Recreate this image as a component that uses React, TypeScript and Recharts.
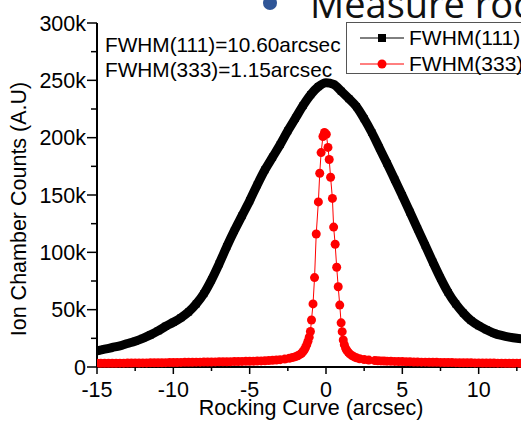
import React from 'react';
import { LineChart, Line, XAxis, YAxis } from 'recharts';

// FWHM(111) scan, counts in thousands
const arc111X = [
  -15, -14.5, -14, -13.5, -13, -12.5, -12, -11.5, -11, -10.5, -10, -9.5, -9, -8.5, -8, -7.5, -7, -6.5, -6, -5.5,
  -5, -4.5, -4, -3.5, -3, -2.5, -2, -1.5, -1, -0.5, 0, 0.5, 1, 1.5, 2, 2.5, 3, 3.5, 4, 4.5,
  5, 5.5, 6, 6.5, 7, 7.5, 8, 8.5, 9, 9.5, 10, 10.5, 11, 11.5, 12, 12.5, 13, 13.5,
];
const arc111Counts = [
  14, 15.5, 17, 18.5, 20.5, 22.5, 25, 28, 31.5, 35.5, 39, 43, 48, 55, 64, 76, 90, 105, 119, 132,
  145, 159, 172, 183, 194, 206, 217, 228, 237.5, 244.5, 248, 246.5, 240.5, 234, 227, 216.5, 204.5, 191, 177.5, 163.5,
  149.5, 135, 120.5, 106, 91.5, 77.5, 65, 55, 47, 40.5, 36, 32.5, 29.5, 27.5, 26, 25, 24.5, 24,
];

// FWHM(333) scan, counts in thousands
const arc333X = [
  -15, -14.75, -14.5, -14.25, -14, -13.75, -13.5, -13.25, -13, -12.75, -12.5, -12.25, -12, -11.75, -11.5, -11.25,
  -11, -10.75, -10.5, -10.25, -10, -9.75, -9.5, -9.25, -9, -8.75, -8.5, -8.25, -8, -7.75, -7.5, -7.25,
  -7, -6.75, -6.5, -6.25, -6, -5.75, -5.5, -5.25, -5, -4.75, -4.5, -4.25, -4, -3.75, -3.5, -3.25,
  -3, -2.7, -2.4, -2.2, -2, -1.85, -1.7, -1.6, -1.5, -1.42, -1.34, -1.26, -1.18, -1.1, -1.02, -0.95,
  -0.85, -0.75, -0.64, -0.5, -0.41, -0.32, -0.2, -0.1, 0.02, 0.13, 0.21, 0.3, 0.42, 0.5, 0.6, 0.7,
  0.8, 0.9, 0.99, 1.06, 1.13, 1.2, 1.28, 1.36, 1.45, 1.55, 1.7, 1.85, 2, 2.2, 2.5, 2.8,
  3.2, 3.4, 3.6, 3.8, 4, 4.25, 4.5, 4.75, 5, 5.25, 5.5, 5.75, 6, 6.25, 6.5, 6.75,
  7, 7.25, 7.5, 7.75, 8, 8.25, 8.5, 8.75, 9, 9.25, 9.5, 9.75, 10, 10.25, 10.5, 10.75,
  11, 11.25, 11.5, 11.75, 12, 12.25, 12.5, 12.75, 13, 13.25, 13.5,
];
const arc333Counts = [
  3.2, 3.22, 3.25, 3.27, 3.3, 3.32, 3.35, 3.37, 3.4, 3.45, 3.5, 3.52, 3.55, 3.57, 3.6, 3.65,
  3.7, 3.75, 3.8, 3.85, 3.9, 3.95, 4.0, 4.05, 4.1, 4.15, 4.2, 4.25, 4.3, 4.35, 4.4, 4.45,
  4.5, 4.55, 4.6, 4.65, 4.7, 4.78, 4.85, 4.92, 5.0, 5.1, 5.2, 5.3, 5.4, 5.6, 5.8, 6.1,
  6.4, 6.9, 7.6, 8.2, 9, 9.8, 11, 12, 13.5, 15, 17, 19.5, 22.5, 26, 31, 41,
  55, 78, 116, 144, 169, 187, 201, 204.5, 203, 191.5, 181, 165.5, 147, 122, 107, 87,
  70, 54, 38.5, 30.8, 23.5, 19.5, 16.5, 14.5, 13, 11.5, 10, 8.8, 8, 7.2, 6.5, 6,
  5.6, 5.45, 5.3, 5.2, 5.1, 5.0, 4.9, 4.8, 4.7, 4.6, 4.5, 4.4, 4.3, 4.25, 4.2, 4.15,
  4.1, 4.05, 4.0, 3.95, 3.9, 3.85, 3.8, 3.75, 3.7, 3.65, 3.6, 3.55, 3.5, 3.47, 3.45, 3.42,
  3.4, 3.37, 3.35, 3.32, 3.3, 3.27, 3.25, 3.22, 3.2, 3.2, 3.2,
];

const xTicks = [-15, -12.5, -10, -7.5, -5, -2.5, 0, 2.5, 5, 7.5, 10, 12.5, 15];
const yTicks = [0, 25, 50, 75, 100, 125, 150, 175, 200, 225, 250, 275, 300];

const series111 = arc111X.map((x, i) => ({ x, y: arc111Counts[i] }));
const series333 = arc333X.map((x, i) => ({ x, y: arc333Counts[i] }));

const font = '"Liberation Sans", Arial, sans-serif';

const SquareDot = (props: any) => (
  <rect key={`sq-${props.index}`} x={props.cx - 3.5} y={props.cy - 3.5} width={7} height={7} fill="#000" />
);

const YTick = (props: any) => {
  const { x, y, payload } = props;
  const v = payload.value;
  const major = v % 50 === 0;
  return (
    <g>
      <line x1={x - (major ? 10 : 6)} x2={x} y1={y} y2={y} stroke="#000" strokeWidth={1.5} />
      {major && (
        <text x={x - 11} y={y} dy="0.36em" textAnchor="end" fill="#000" fontSize={21.5} fontFamily={font}>
          {v === 0 ? '0' : `${v}k`}
        </text>
      )}
    </g>
  );
};

const XTick = (props: any) => {
  const { x, y, payload } = props;
  const v = payload.value;
  const major = v % 5 === 0;
  return (
    <g>
      <line x1={x} x2={x} y1={y} y2={y + (major ? 7 : 4)} stroke="#000" strokeWidth={1.5} />
      {major && (
        <text x={x} y={y + 15} dy="0.71em" textAnchor="middle" fill="#000" fontSize={21.5} fontFamily={font}>
          {v}
        </text>
      )}
    </g>
  );
};

const legendItems = [
  { name: 'FWHM(111)', color: '#000', square: true },
  { name: 'FWHM(333)', color: '#ff0000', square: false },
];

export default function App() {
  return (
    <div style={{ position: 'absolute', left: 0, top: 0, width: 521, height: 421, overflow: 'hidden', background: '#fff' }}>
      <LineChart width={600} height={421} margin={{ top: 23, right: 45, bottom: 0, left: 0 }}>
        <XAxis
          dataKey="x"
          type="number"
          domain={[-15, 15]}
          ticks={xTicks}
          allowDataOverflow
          stroke="#000"
          strokeWidth={2}
          tickLine={false}
          tickSize={0}
          tickMargin={0}
          height={54}
          tick={XTick}
        />
        <XAxis
          xAxisId="top"
          dataKey="x"
          type="number"
          orientation="top"
          domain={[-15, 15]}
          ticks={xTicks}
          allowDataOverflow
          mirror
          height={0}
          stroke="#000"
          strokeWidth={1.5}
          tickSize={4}
          tick={false}
        />
        <YAxis
          type="number"
          domain={[0, 300]}
          ticks={yTicks}
          width={97}
          stroke="#000"
          strokeWidth={2}
          tickLine={false}
          tickSize={0}
          tickMargin={0}
          tick={YTick}
        />
        <Line
          data={series111}
          dataKey="y"
          name="FWHM(111)"
          type="monotone"
          stroke="#000"
          strokeWidth={9}
          strokeLinecap="round"
          strokeLinejoin="round"
          dot={SquareDot}
          activeDot={false}
          isAnimationActive={false}
        />
        <Line
          data={series333}
          dataKey="y"
          name="FWHM(333)"
          type="linear"
          stroke="#ff0000"
          strokeWidth={1}
          dot={{ r: 4.5, fill: '#ff0000', stroke: 'none' }}
          activeDot={false}
          isAnimationActive={false}
        />
      </LineChart>

      {/* legend box */}
      <div
        style={{
          position: 'absolute',
          left: 346,
          top: 22,
          width: 200,
          height: 50,
          border: '1px solid #555',
          background: '#fff',
          fontFamily: font,
          fontSize: 21,
        }}
      >
        {legendItems.map((e, i) => (
          <div key={e.name} style={{ position: 'absolute', left: 13, top: 3 + i * 26, height: 24, display: 'flex', alignItems: 'center' }}>
            <svg width={44} height={12} style={{ marginRight: 5 }}>
              <line x1={0} y1={6} x2={44} y2={6} stroke={e.color} strokeWidth={1} />
              {e.square ? <rect x={18} y={2} width={8} height={8} fill={e.color} /> : <circle cx={22} cy={6} r={4.5} fill={e.color} />}
            </svg>
            <span style={{ lineHeight: '24px', color: '#000' }}>{e.name}</span>
          </div>
        ))}
      </div>

      <div style={{ position: 'absolute', left: 263, top: -4, width: 14, height: 14, borderRadius: 7, background: '#2F5597' }} />
      <div style={{ position: 'absolute', left: 310, top: -16, fontFamily: '"Open Sans", sans-serif', fontSize: 38, lineHeight: '38px', whiteSpace: 'nowrap', color: '#111' }}>
        Measure rocking curve
      </div>

      <div style={{ position: 'absolute', left: 105, top: 35, fontFamily: font, fontSize: 20.8, lineHeight: '20px', whiteSpace: 'nowrap' }}>
        FWHM(111)=10.60arcsec
      </div>
      <div style={{ position: 'absolute', left: 105, top: 60, fontFamily: font, fontSize: 20.8, lineHeight: '20px', whiteSpace: 'nowrap' }}>
        FWHM(333)=1.15arcsec
      </div>

      <div style={{ position: 'absolute', left: 311, top: 398, transform: 'translateX(-50%)', fontFamily: font, fontSize: 21.5, lineHeight: '21px', whiteSpace: 'nowrap' }}>
        Rocking Curve (arcsec)
      </div>
      <div
        style={{
          position: 'absolute',
          left: 19,
          top: 209,
          transform: 'translate(-50%, -50%) rotate(-90deg)',
          fontFamily: font,
          fontSize: 21.5,
          lineHeight: '21px',
          whiteSpace: 'nowrap',
        }}
      >
        Ion Chamber Counts (A.U)
      </div>
    </div>
  );
}
